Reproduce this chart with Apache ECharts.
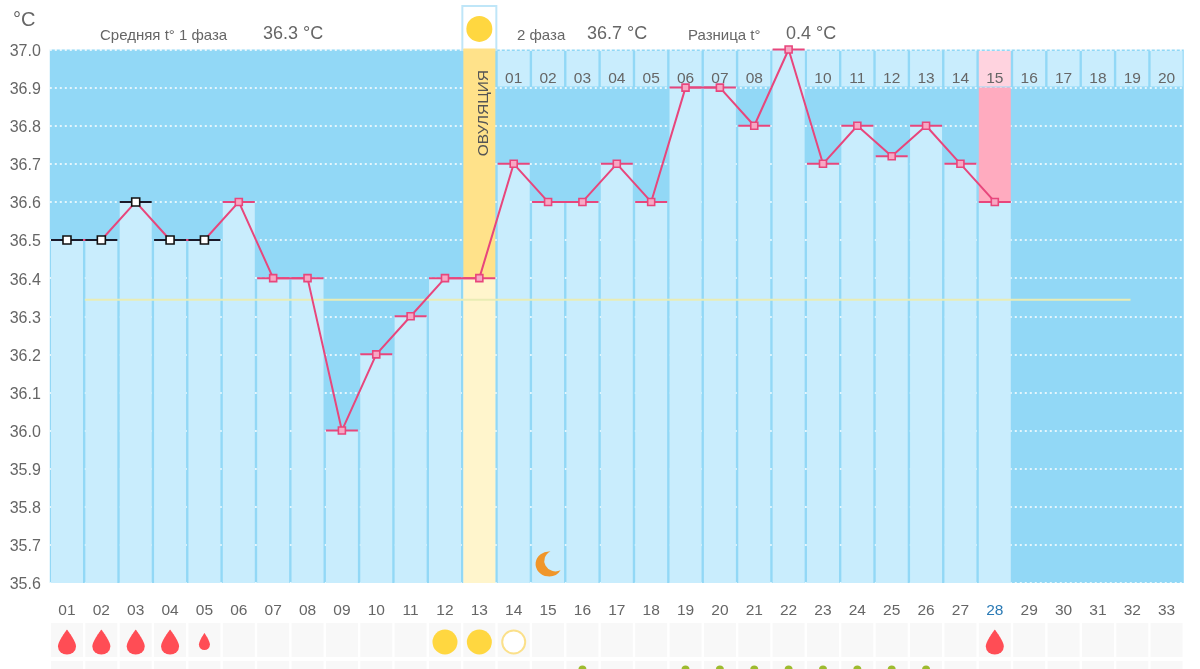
<!DOCTYPE html>
<html><head><meta charset="utf-8">
<style>html,body{margin:0;padding:0;background:#fff}#c{width:1200px;height:669px}</style>
<script src="https://cdn.jsdelivr.net/npm/echarts@6/dist/echarts.min.js"></script>
</head><body><div id="c"></div>
<script>
const days = ['01','02','03','04','05','06','07','08','09','10','11','12','13','14','15','16','17','18','19','20','21','22','23','24','25','26','27','28','29','30','31','32','33'];
const temps = [36.5,36.5,36.6,36.5,36.5,36.6,36.4,36.4,36.0,36.2,36.3,36.4,36.4,36.7,36.6,36.6,36.7,36.6,36.9,36.9,36.8,37.0,36.7,36.8,36.72,36.8,36.7,36.6];
const preliminaryCount = 5;
const phaseDays = ['01','02','03','04','05','06','07','08','','10','11','12','13','14','15','16','17','18','19','20'];
const phaseStart = 13;
const coverline = [[1.02,36.343],[31.45,36.343]];
const ovulationIndex = 12, todayIndex = 27;
const drops = [[0,1],[1,1],[2,1],[3,1],[4,0],[27,1]];
const suns = [11,12];
const openSuns = [13];
const greenDots = [15,18,19,20,21,22,23,24,25];
const moon = [[14,35.65]];
const headers = [
  ['Средняя t° 1 фаза',100,38,15],['36.3 °C',263,36.5,18],['2 фаза',517,38,15],['36.7 °C',587,36.5,18],
  ['Разница t°',688,38,15],['0.4 °C',786,36.5,18],['°C',13,23,20]];
const DARK='#92d8f6', LIGHT='#c9edfd', TXT='#666';
const FONT='"Liberation Sans",Arial,sans-serif';
const bands = [
  [ovulationIndex,35.6,36.4,'#fff5cc'],[ovulationIndex,36.4,37.0,'#ffe28a'],
  [todayIndex,36.6,36.9,'#ffabbf']
];
const DROP='path://M12 0 C12 0 24 17 24 25 A12 12 0 0 1 0 25 C0 17 12 0 12 0 Z';
const MOON='path://M15 1 A12 12 0 1 0 24 19 A10 10 0 0 1 15 1 Z';
const chart = echarts.init(document.getElementById('c'),null,{renderer:'canvas'});
const W=32;
chart.setOption({
  animation:false,
  backgroundColor:'#fff',
  graphic:headers.map(h=>({type:'text',left:h[1],top:h[2]-h[3]*0.62,silent:true,
    style:{text:h[0],fill:TXT,font:h[3]+'px '+FONT}})),
  grid:[
    {left:49.8,top:49.5,width:1134,height:533.5,show:true,backgroundColor:DARK,borderWidth:0,outerBoundsMode:'none'},
    {left:49.8,top:623,width:1134,height:100,show:false,outerBoundsMode:'none'}
  ],
  xAxis:[
    {type:'category',gridIndex:0,data:days,axisLine:{show:false},axisTick:{show:false},splitLine:{show:false},
     axisLabel:{interval:0,margin:20,fontFamily:FONT,fontSize:15.5,
       color:(v,i)=>i===todayIndex?'#2a7ab5':TXT}},
    {type:'value',gridIndex:0,min:0,max:33,show:false},
    {type:'category',gridIndex:1,data:days,show:false}
  ],
  yAxis:[
    {type:'value',gridIndex:0,min:35.6,max:37.0,interval:0.1,
     axisLine:{show:false},axisTick:{show:false},
     splitLine:{show:true,lineStyle:{color:'#fff',type:[2,3],width:1.5}},
     axisLabel:{margin:9,color:TXT,fontFamily:FONT,fontSize:16,verticalAlign:'top',lineHeight:4,formatter:v=>v.toFixed(1)}},
    {type:'value',gridIndex:1,min:0,max:100,inverse:true,show:false}
  ],
  series:[
    {type:'bar',xAxisIndex:0,yAxisIndex:0,data:temps,barWidth:W,itemStyle:{color:LIGHT},z:2},
    {type:'custom',xAxisIndex:0,yAxisIndex:0,data:bands.map(b=>b.slice(0,3)),clip:false,z:3,
     encode:{x:0,y:[1,2]},
     renderItem:(p,api)=>{
       const a=api.coord([api.value(0),api.value(2)]),b=api.coord([api.value(0),api.value(1)]);
       return {type:'rect',shape:{x:a[0]-W/2,y:a[1],width:W,height:b[1]-a[1]},style:{fill:bands[p.dataIndex][3]}};
     }},
    {type:'custom',xAxisIndex:0,yAxisIndex:0,data:phaseDays.map((d,i)=>[i+phaseStart,36.9,37.0]),clip:false,z:3,
     encode:{x:0,y:[1,2]},
     renderItem:(p,api)=>{
       const a=api.coord([api.value(0),37.0]),b=api.coord([api.value(0),36.9]);
       const today=api.value(0)===todayIndex;
       return {type:'group',children:[
         {type:'rect',shape:{x:a[0]-W/2,y:a[1]+1.5,width:W,height:b[1]-a[1]-2.5},style:{fill:today?'#ffd3df':LIGHT}},
         {type:'text',style:{x:a[0],y:a[1]+29,text:phaseDays[p.dataIndex],align:'center',verticalAlign:'middle',fill:TXT,font:'15.5px '+FONT}}
       ]};
     }},
    {type:'custom',xAxisIndex:0,yAxisIndex:0,data:[[ovulationIndex,36.93]],clip:false,z:4,
     encode:{x:0,y:1},
     renderItem:(p,api)=>{
       const a=api.coord([api.value(0),37.0]);
       const c=api.coord([api.value(0),api.value(1)]);
       return {type:'group',children:[
         {type:'rect',shape:{x:a[0]-17,y:a[1]-43.5,width:34,height:44},style:{fill:'#fff',stroke:'#bfe6f8',lineWidth:2}},
         {type:'rect',shape:{x:a[0]-16,y:a[1]-1,width:32,height:3},style:{fill:'#ffe28a'}},
         {type:'text',x:c[0]+4.5,y:c[1]+37,rotation:Math.PI/2,style:{x:0,y:0,text:'ОВУЛЯЦИЯ',align:'center',verticalAlign:'middle',fill:'#555',font:'15.5px '+FONT}}
       ]};
     }},
    {type:'scatter',xAxisIndex:0,yAxisIndex:0,data:[[ovulationIndex,37.054]],clip:false,symbol:'circle',symbolSize:26,itemStyle:{color:'#ffd740',opacity:1},z:5},
    {type:'scatter',xAxisIndex:0,yAxisIndex:0,data:moon,symbol:MOON,symbolSize:[25,25],itemStyle:{color:'#f0962a',opacity:1},z:5},
    {type:'line',xAxisIndex:1,yAxisIndex:0,data:coverline,showSymbol:false,symbol:'none',lineStyle:{color:'#e9ecb4',width:2},z:5},
    {type:'line',xAxisIndex:0,yAxisIndex:0,data:temps,symbol:'none',showSymbol:false,clip:false,lineStyle:{color:'#e8467c',width:2},z:6},
    {type:'scatter',xAxisIndex:0,yAxisIndex:0,clip:false,symbol:'rect',symbolSize:[32,2],z:7,
     data:temps.map((t,i)=>({value:[i,t],itemStyle:{opacity:1,color:i<preliminaryCount?'#1a1a2a':'#e8467c'}}))},
    {type:'scatter',xAxisIndex:0,yAxisIndex:0,clip:false,symbol:'rect',z:8,
     data:temps.map((t,i)=>{const k=i<preliminaryCount;return {value:[i,t],symbolSize:k?8:7,
       itemStyle:{opacity:1,color:k?'#fff':'#f7a8c4',borderColor:k?'#111':'#e8467c',borderWidth:1.6}};})},
    {type:'custom',xAxisIndex:2,yAxisIndex:1,clip:false,z:1,encode:{x:0,y:1},
     data:days.flatMap((d,i)=>[[i,0,34],[i,38,80]]),
     renderItem:(p,api)=>{
       const a=api.coord([api.value(0),api.value(1)]),b=api.coord([api.value(0),api.value(2)]);
       return {type:'rect',shape:{x:a[0]-16,y:a[1],width:32,height:b[1]-a[1]},style:{fill:'#f8f8f8'}};
     }},
    {type:'scatter',xAxisIndex:2,yAxisIndex:1,symbol:DROP,z:3,clip:false,
     data:drops.map(d=>({value:[d[0],d[1]?19:18.5],symbolSize:d[1]?[18,25]:[11,17],itemStyle:{color:'#ff4d55',opacity:1}}))},
    {type:'scatter',xAxisIndex:2,yAxisIndex:1,symbol:'circle',symbolSize:25,z:3,clip:false,itemStyle:{color:'#ffd740',opacity:1},
     data:suns.map(i=>[i,19])},
    {type:'scatter',xAxisIndex:2,yAxisIndex:1,symbol:'circle',symbolSize:23,z:3,clip:false,itemStyle:{color:'#fff',borderColor:'#fbe08a',borderWidth:2,opacity:1},
     data:openSuns.map(i=>[i,19])},
    {type:'scatter',xAxisIndex:2,yAxisIndex:1,symbol:'circle',symbolSize:8,z:3,clip:false,itemStyle:{color:'#9dbb2e',opacity:1},
     data:greenDots.map(i=>[i,46.5])}
  ]
});
</script></body></html>
